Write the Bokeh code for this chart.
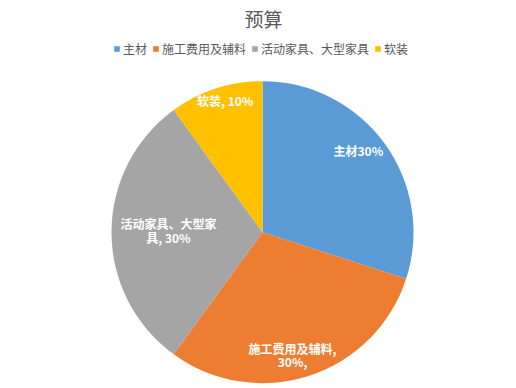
import numpy as np
from bokeh.plotting import figure
from bokeh.models import ColumnDataSource, Range1d, Legend, LegendItem
from bokeh.core.properties import value
from bokeh.embed import file_html
from bokeh.resources import INLINE

# ---- data ----
title_text = "预算"
categories = ["主材", "施工费用及辅料", "活动家具、大型家具", "软装"]
values = [30, 30, 30, 10]
labels = ["主材30%", "施工费用及辅料,\n30%,", "活动家具、大型家\n具, 30%", "软装, 10%"]
colors = ["#5B9BD5", "#ED7D31", "#A5A5A5", "#FFC000"]

# ---- layout / style ----
W, H = 516, 388
CX, CY, R = 262, H - 231.7, 151
label_r = [0.834, 0.837, 0.623, 0.906]
label_dx = [-6, -9, 0, 5]
label_dy = [-7.6, 2.6, -1.7, -1.6]
FONT = "Noto Sans CJK SC"

vals = np.array(values, dtype=float)
frac = vals / vals.sum()
cum_end = np.cumsum(frac)
cum_start = cum_end - frac
start = np.pi / 2 - 2 * np.pi * cum_end
end = np.pi / 2 - 2 * np.pi * cum_start
mid = 2 * np.pi * (cum_start + cum_end) / 2
lx = CX + np.array(label_r) * R * np.sin(mid)
ly = CY + np.array(label_r) * R * np.cos(mid)

src = ColumnDataSource(dict(
    cat=categories, start=start, end=end, color=colors,
    x=[CX] * len(categories), y=[CY] * len(categories),
))
lsrc = ColumnDataSource(dict(x=lx, y=ly, text=labels, dx=label_dx, dy=label_dy))

p = figure(width=W, height=H, output_backend="svg", toolbar_location=None,
           x_range=Range1d(0, W), y_range=Range1d(0, H),
           x_axis_type=None, y_axis_type=None, min_border=0)
p.grid.visible = False
p.outline_line_color = None
p.background_fill_color = "white"
p.border_fill_color = "white"

r = p.wedge(x="x", y="y", radius=R, start_angle="start", end_angle="end",
            fill_color="color", line_color=None, source=src)

p.text(x="x", y="y", text="text", source=lsrc, x_offset="dx", y_offset="dy",
       text_align="center", text_baseline="middle", text_color="white",
       text_font=value(FONT), text_font_size="12px", text_font_style="bold",
       text_line_height=0.8)

p.text(x=[263], y=[H - 18], text=[title_text], text_align="center",
       text_baseline="middle", text_color="#595959", text_font=value(FONT),
       text_font_size="19px")

items = [LegendItem(label=c, renderers=[r], index=i) for i, c in enumerate(categories)]
legend = Legend(items=items, orientation="horizontal", location=(113, H - 57),
                glyph_width=7, glyph_height=7, label_standoff=3, spacing=5,
                padding=0, margin=0, label_height=14, label_width=10,
                label_text_font=FONT, label_text_font_size="12px",
                label_text_color="#595959", background_fill_alpha=0,
                border_line_color=None)
p.add_layout(legend, "center")

open("out.html", "w").write(file_html(p, INLINE))
